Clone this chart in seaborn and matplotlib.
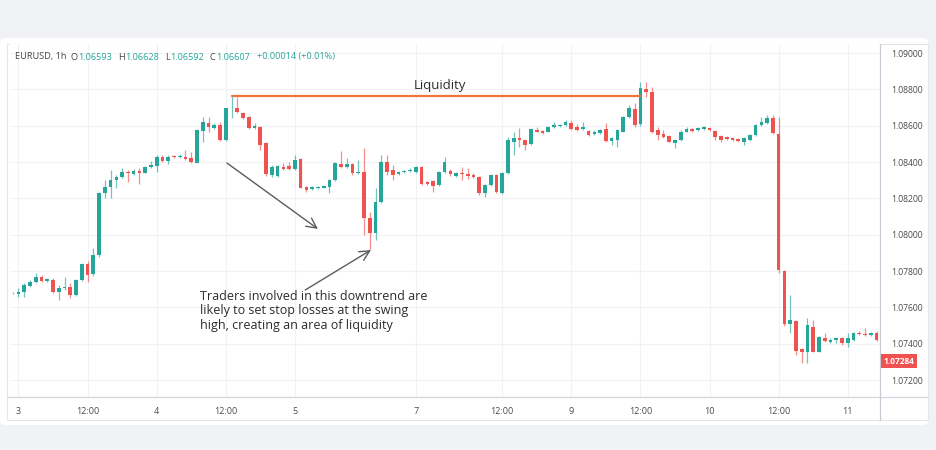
import numpy as np
import pandas as pd
import matplotlib
matplotlib.use("Agg")
import matplotlib.pyplot as plt
import seaborn as sns
from matplotlib.patches import FancyBboxPatch, Rectangle
from matplotlib.lines import Line2D

# -------- DATA (EURUSD 1h) --------
opens = [
    1.07680, 1.07672, 1.07683, 1.07720, 1.07738, 1.07769, 1.07746, 1.07751, 1.07687, 1.07705,
    1.07714, 1.07669, 1.07751, 1.07837, 1.07782, 1.07889, 1.08228, 1.08265, 1.08301, 1.08320,
    1.08347, 1.08334, 1.08351, 1.08342, 1.08371, 1.08380, 1.08430, 1.08406, 1.08433, 1.08426,
    1.08430, 1.08420, 1.08397, 1.08571, 1.08617, 1.08586, 1.08604, 1.08521, 1.08696, 1.08700,
    1.08668, 1.08650, 1.08586, 1.08595, 1.08503, 1.08329, 1.08323, 1.08375, 1.08380, 1.08362,
    1.08417, 1.08265, 1.08252, 1.08256, 1.08259, 1.08265, 1.08301, 1.08388, 1.08375, 1.08388,
    1.08338, 1.08347, 1.08090, 1.08008, 1.08178, 1.08398, 1.08356, 1.08334, 1.08347, 1.08351,
    1.08347, 1.08375, 1.08292, 1.08296, 1.08274, 1.08347, 1.08351, 1.08325, 1.08342, 1.08336,
    1.08329, 1.08320, 1.08228, 1.08274, 1.08329, 1.08228, 1.08338, 1.08513, 1.08531, 1.08522,
    1.08500, 1.08577, 1.08573, 1.08568, 1.08592, 1.08600, 1.08604, 1.08617, 1.08595, 1.08581,
    1.08573, 1.08555, 1.08559, 1.08581, 1.08518, 1.08522, 1.08568, 1.08650, 1.08691, 1.08608,
    1.08801, 1.08788, 1.08577, 1.08555, 1.08544, 1.08507, 1.08522, 1.08568, 1.08581, 1.08577,
    1.08581, 1.08586, 1.08573, 1.08544, 1.08537, 1.08531, 1.08526, 1.08513, 1.08522, 1.08549,
    1.08604, 1.08614, 1.08641, 1.08553, 1.07801, 1.07507, 1.07526, 1.07370, 1.07357, 1.07494,
    1.07357, 1.07430, 1.07412, 1.07421, 1.07430, 1.07406, 1.07421, 1.07461, 1.07454, 1.07449,
    1.07458,
]
highs = [
    1.07685, 1.07705, 1.07733, 1.07750, 1.07788, 1.07779, 1.07760, 1.07760, 1.07724, 1.07769,
    1.07733, 1.07755, 1.07843, 1.07856, 1.07925, 1.08235, 1.08301, 1.08356, 1.08329, 1.08365,
    1.08356, 1.08360, 1.08365, 1.08380, 1.08406, 1.08439, 1.08439, 1.08439, 1.08440, 1.08443,
    1.08466, 1.08457, 1.08582, 1.08650, 1.08650, 1.08613, 1.08622, 1.08700, 1.08765, 1.08760,
    1.08674, 1.08655, 1.08613, 1.08600, 1.08508, 1.08384, 1.08385, 1.08393, 1.08398, 1.08439,
    1.08420, 1.08268, 1.08270, 1.08270, 1.08275, 1.08305, 1.08402, 1.08461, 1.08420, 1.08393,
    1.08411, 1.08476, 1.08127, 1.08255, 1.08439, 1.08439, 1.08384, 1.08352, 1.08358, 1.08365,
    1.08380, 1.08380, 1.08296, 1.08301, 1.08352, 1.08430, 1.08360, 1.08345, 1.08375, 1.08365,
    1.08340, 1.08325, 1.08280, 1.08335, 1.08335, 1.08347, 1.08536, 1.08568, 1.08586, 1.08527,
    1.08586, 1.08595, 1.08578, 1.08597, 1.08623, 1.08610, 1.08632, 1.08632, 1.08610, 1.08623,
    1.08577, 1.08575, 1.08583, 1.08614, 1.08536, 1.08582, 1.08655, 1.08714, 1.08724, 1.08843,
    1.08843, 1.08815, 1.08595, 1.08577, 1.08550, 1.08527, 1.08577, 1.08595, 1.08590, 1.08592,
    1.08599, 1.08595, 1.08578, 1.08550, 1.08541, 1.08537, 1.08530, 1.08536, 1.08555, 1.08610,
    1.08650, 1.08659, 1.08659, 1.08650, 1.07806, 1.07669, 1.07530, 1.07375, 1.07540, 1.07531,
    1.07445, 1.07458, 1.07430, 1.07440, 1.07440, 1.07458, 1.07465, 1.07470, 1.07485, 1.07465,
    1.07470,
]
lows = [
    1.07672, 1.07659, 1.07659, 1.07715, 1.07735, 1.07740, 1.07740, 1.07678, 1.07641, 1.07696,
    1.07654, 1.07665, 1.07748, 1.07742, 1.07775, 1.07880, 1.08200, 1.08200, 1.08255, 1.08310,
    1.08292, 1.08329, 1.08277, 1.08338, 1.08366, 1.08347, 1.08402, 1.08387, 1.08420, 1.08420,
    1.08412, 1.08393, 1.08393, 1.08512, 1.08567, 1.08580, 1.08515, 1.08515, 1.08641, 1.08668,
    1.08635, 1.08580, 1.08580, 1.08466, 1.08325, 1.08320, 1.08318, 1.08358, 1.08356, 1.08358,
    1.08255, 1.08237, 1.08248, 1.08252, 1.08255, 1.08228, 1.08296, 1.08365, 1.08370, 1.08329,
    1.08333, 1.07999, 1.07916, 1.07971, 1.08175, 1.08329, 1.08301, 1.08329, 1.08342, 1.08347,
    1.08342, 1.08272, 1.08272, 1.08237, 1.08268, 1.08342, 1.08325, 1.08318, 1.08301, 1.08307,
    1.08310, 1.08220, 1.08210, 1.08268, 1.08230, 1.08222, 1.08333, 1.08439, 1.08485, 1.08467,
    1.08495, 1.08563, 1.08557, 1.08563, 1.08588, 1.08595, 1.08600, 1.08577, 1.08570, 1.08575,
    1.08545, 1.08550, 1.08555, 1.08513, 1.08494, 1.08485, 1.08563, 1.08645, 1.08595, 1.08600,
    1.08760, 1.08560, 1.08522, 1.08535, 1.08508, 1.08476, 1.08518, 1.08563, 1.08568, 1.08572,
    1.08577, 1.08572, 1.08522, 1.08513, 1.08520, 1.08518, 1.08513, 1.08494, 1.08518, 1.08544,
    1.08600, 1.08610, 1.08555, 1.07788, 1.07500, 1.07458, 1.07338, 1.07293, 1.07293, 1.07352,
    1.07352, 1.07410, 1.07405, 1.07405, 1.07395, 1.07384, 1.07415, 1.07448, 1.07445, 1.07445,
    1.07415,
]
closes = [
    1.07677, 1.07687, 1.07724, 1.07742, 1.07769, 1.07746, 1.07755, 1.07687, 1.07705, 1.07714,
    1.07669, 1.07751, 1.07837, 1.07779, 1.07889, 1.08228, 1.08265, 1.08301, 1.08320, 1.08347,
    1.08338, 1.08353, 1.08340, 1.08373, 1.08384, 1.08430, 1.08406, 1.08428, 1.08426, 1.08433,
    1.08417, 1.08398, 1.08576, 1.08622, 1.08595, 1.08604, 1.08521, 1.08696, 1.08700, 1.08674,
    1.08641, 1.08586, 1.08600, 1.08494, 1.08332, 1.08375, 1.08380, 1.08362, 1.08362, 1.08411,
    1.08259, 1.08246, 1.08265, 1.08265, 1.08270, 1.08301, 1.08393, 1.08375, 1.08388, 1.08338,
    1.08347, 1.08090, 1.08008, 1.08182, 1.08398, 1.08347, 1.08329, 1.08347, 1.08353, 1.08356,
    1.08375, 1.08277, 1.08277, 1.08270, 1.08347, 1.08402, 1.08332, 1.08338, 1.08332, 1.08323,
    1.08318, 1.08228, 1.08274, 1.08329, 1.08237, 1.08342, 1.08521, 1.08531, 1.08522, 1.08494,
    1.08581, 1.08568, 1.08562, 1.08592, 1.08604, 1.08604, 1.08623, 1.08581, 1.08577, 1.08595,
    1.08549, 1.08568, 1.08577, 1.08518, 1.08531, 1.08577, 1.08650, 1.08696, 1.08604, 1.08806,
    1.08788, 1.08568, 1.08549, 1.08540, 1.08513, 1.08522, 1.08568, 1.08581, 1.08573, 1.08586,
    1.08592, 1.08577, 1.08540, 1.08522, 1.08526, 1.08522, 1.08518, 1.08531, 1.08549, 1.08604,
    1.08623, 1.08641, 1.08559, 1.07806, 1.07507, 1.07531, 1.07360, 1.07357, 1.07504, 1.07357,
    1.07439, 1.07415, 1.07421, 1.07430, 1.07403, 1.07430, 1.07458, 1.07452, 1.07449, 1.07458,
    1.07421,
]

tick_bars = [1, 13, 25, 37, 49, 70, 85, 97, 109, 121, 133, 145]
tick_labels = ["3", "12:00", "4", "12:00", "5", "7", "12:00", "9", "12:00", "10", "12:00", "11"]
price_ticks = [1.072, 1.074, 1.076, 1.078, 1.080, 1.082, 1.084, 1.086, 1.088, 1.090]
last_price = 1.07284

swing_high_bar = 38
liquidity_end_bar = 109
swing_low_bar = 62

header_parts = [("EURUSD, 1h", "#444444"), ("O", "#444444"), ("1.06593", "#26a69a"),
                ("H", "#444444"), ("1.06628", "#26a69a"), ("L", "#444444"),
                ("1.06592", "#26a69a"), ("C", "#444444"), ("1.06607", "#26a69a"),
                ("+0.00014 (+0.01%)", "#26a69a")]
# gap (px) placed before each header piece
header_gaps = [0, 4, 0.5, 6, 0.5, 6, 0.5, 6, 0.5, 7]

note = ("Traders involved in this downtrend are\n"
        "likely to set stop losses at the swing\n"
        "high, creating an area of liquidity")

# -------- FRAME --------
df = pd.DataFrame({"open": opens, "high": highs, "low": lows, "close": closes})
df["bar"] = np.arange(len(df))
df["up"] = df["close"] >= df["open"]

UP, DOWN = "#26a69a", "#ef5350"

sns.set_theme(style="white")
plt.rcParams["font.family"] = ["Open Sans", "DejaVu Sans"]

W, H = 936, 450
fx = lambda px: px / W
fy = lambda py: 1 - py / H

fig = plt.figure(figsize=(W / 100, H / 100), dpi=100, facecolor="#f1f2f5")
fig.patches.append(FancyBboxPatch((fx(0), fy(425)), fx(928), fy(38) - fy(425),
                                  boxstyle="round,pad=0,rounding_size=0.008",
                                  transform=fig.transFigure, facecolor="white",
                                  edgecolor="none", zorder=-5))

ax = fig.add_axes([fx(10), fy(397), fx(880) - fx(10), fy(44) - fy(397)])
ax.set_facecolor("white")

# -------- CANDLES --------
colors = np.where(df["up"], UP, DOWN)
ax.vlines(df["bar"], df["low"], df["high"], colors=colors, linewidth=0.9, alpha=0.65, zorder=2)
bottoms = df[["open", "close"]].min(axis=1)
heights = (df["close"] - df["open"]).abs().clip(lower=0.00003)
ax.bar(df["bar"], heights, bottom=bottoms, width=0.64, color=colors, linewidth=0, zorder=3)

# liquidity level from swing high
liq = pd.DataFrame({"bar": [swing_high_bar, liquidity_end_bar],
                    "price": [highs[swing_high_bar]] * 2})
sns.lineplot(data=liq, x="bar", y="price", color="#f4703e", linewidth=1.6, ax=ax, zorder=4)
ax.text((swing_high_bar + liquidity_end_bar) / 2 + 0.6, highs[swing_high_bar] + 0.00056,
        "Liquidity", ha="center", va="center", fontsize=9.5, color="#2e2e2e")

arrow = dict(arrowstyle="->,head_length=0.6,head_width=0.3", color="#5c5c5c", lw=1.0,
             shrinkA=0, shrinkB=0)
ax.annotate("", xy=(53.0, 1.08032), xytext=(37.2, 1.08395), arrowprops=arrow, zorder=5)
ax.annotate("", xy=(swing_low_bar + 0.2, lows[swing_low_bar]), xytext=(50.8, 1.07696),
            arrowprops=arrow, zorder=5)
ax.text(32.5, 1.07695, note, ha="left", va="top", fontsize=9, linespacing=1.12,
        color="#2b2b2b", zorder=5)

# -------- AXES --------
ax.set_xlim(-0.47, 150.6)
ax.set_ylim(1.07107, 1.0905)
ax.set_xticks(tick_bars)
ax.set_xticklabels(tick_labels)
ax.set_yticks(price_ticks)
ax.set_yticklabels([f"{v:.5f}" for v in price_ticks])
ax.yaxis.tick_right()
ax.tick_params(axis="y", length=0, pad=8, labelsize=6.2, labelcolor="#4a4a4a")
ax.tick_params(axis="x", length=0, pad=7, labelsize=6.5, labelcolor="#4a4a4a")
ax.grid(True, color="#f0f2f6", linewidth=0.8)
ax.set_xlabel("")
ax.set_ylabel("")
for s in ax.spines.values():
    s.set_visible(False)

# chart frame lines
fig.patches.append(Rectangle((fx(7), fy(420)), fx(928) - fx(7), fy(44) - fy(420),
                             transform=fig.transFigure, fill=False, edgecolor="#e4e6ec",
                             linewidth=0.8, zorder=-4))
fig.lines.append(Line2D([fx(7), fx(928)], [fy(397), fy(397)], transform=fig.transFigure,
                        color="#d3d6dd", linewidth=0.9))
fig.lines.append(Line2D([fx(880), fx(880)], [fy(44), fy(420)], transform=fig.transFigure,
                        color="#c8cbd3", linewidth=0.9))

# header, laid out piece by piece
renderer = fig.canvas.get_renderer()
x = 15.0
for (txt, col), gap in zip(header_parts, header_gaps):
    x += gap
    t = fig.text(fx(x), fy(57), txt, color=col, fontsize=6.6, ha="left", va="center")
    x += t.get_window_extent(renderer).width

# last price tag
fig.text(fx(899), fy(361), f"{last_price:.5f}", color="white", fontsize=6,
         fontweight="bold", ha="center", va="center",
         bbox=dict(boxstyle="square,pad=0.3", facecolor="#f05252", edgecolor="none"))

fig.savefig("out.png", dpi=100, facecolor=fig.get_facecolor())
